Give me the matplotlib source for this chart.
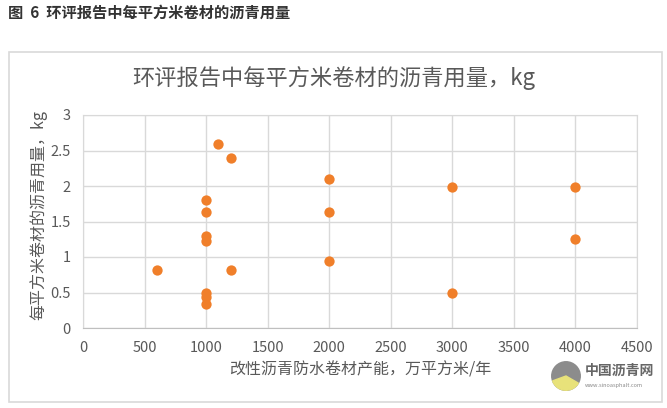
import matplotlib
matplotlib.use("Agg")
import matplotlib.pyplot as plt
from matplotlib.patches import Rectangle, Circle, Wedge

plt.rcParams['font.family'] = ['Noto Sans CJK SC', 'DejaVu Sans']

# capacity (万平方米/年) and asphalt use per m2 (kg)
capacity = [600, 1000, 1000, 1000, 1000, 1000, 1000, 1000, 1100, 1200, 1200,
            2000, 2000, 2000, 3000, 3000, 4000, 4000]
asphalt = [0.82, 1.80, 1.63, 1.30, 1.23, 0.50, 0.44, 0.34, 2.59, 2.39, 0.82,
           2.10, 1.63, 0.95, 1.98, 0.50, 1.98, 1.25]

xticks = [0, 500, 1000, 1500, 2000, 2500, 3000, 3500, 4000, 4500]
yticks = [0, 0.5, 1, 1.5, 2, 2.5, 3]
ytick_labels = ['0', '0.5', '1', '1.5', '2', '2.5', '3']

grey = '#595959'
W, H = 667, 408

fig = plt.figure(figsize=(W / 100, H / 100), dpi=100)
fig.patch.set_facecolor('white')

# caption above the chart box
fig.text(8 / W, 1 - 13 / H, '图  6  环评报告中每平方米卷材的沥青用量', fontsize=11,
         fontweight='bold', color='#333333', ha='left', va='center')

# chart frame
fig.patches.append(Rectangle((9 / W, 1 - 402 / H), (662 - 9) / W, (402 - 52) / H,
                             transform=fig.transFigure, fill=False,
                             edgecolor='#D9D9D9', linewidth=1.2))

ax = fig.add_axes([83 / W, 1 - 328 / H, (637 - 83) / W, (328 - 115) / H])
ax.scatter(capacity, asphalt, s=55, color='#F07F2A', zorder=3, linewidths=0)

ax.set_xlim(0, 4500)
ax.set_ylim(0, 3)
ax.set_xticks(xticks)
ax.set_yticks(yticks)
ax.set_yticklabels(ytick_labels)
ax.grid(True, color='#D9D9D9', linewidth=1)
ax.set_axisbelow(True)
for side in ['top', 'right', 'left']:
    ax.spines[side].set_color('#D9D9D9')
ax.spines['bottom'].set_color('#BFBFBF')
ax.tick_params(length=0, colors=grey, labelsize=10.5, pad=9)

fig.text(334 / W, 1 - 78 / H, '环评报告中每平方米卷材的沥青用量，kg', fontsize=16,
         color=grey, ha='center', va='center')
fig.text(38 / W, 1 - 215 / H, '每平方米卷材的沥青用量，kg', fontsize=11.5,
         color=grey, ha='center', va='center', rotation=90)
fig.text(360 / W, 1 - 370 / H, '改性沥青防水卷材产能，万平方米/年', fontsize=11.5,
         color=grey, ha='center', va='center')

# watermark logo
lax = fig.add_axes([551 / W, 1 - 391 / H, 30 / W, 30 / H])
lax.set_xlim(-1, 1)
lax.set_ylim(-1, 1)
lax.set_aspect('equal')
lax.axis('off')
lax.add_patch(Circle((0, 0), 0.95, color='#8C8C8C'))
lax.add_patch(Wedge((0, 0), 0.95, 200, 330, color='#E8E27A'))
fig.text(585 / W, 1 - 371 / H, '中国沥青网', fontsize=10, fontweight='bold',
         color='#666666', ha='left', va='center')
fig.text(585 / W, 1 - 385 / H, 'www.sinoasphalt.com', fontsize=4,
         color='#888888', ha='left', va='center')

fig.savefig('out.png', dpi=100)
